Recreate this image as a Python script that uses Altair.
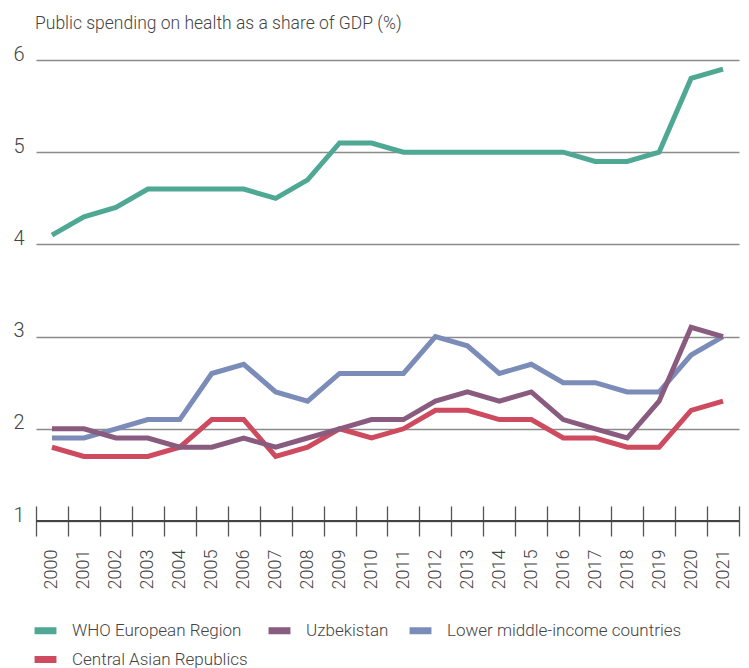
import altair as alt
import pandas as pd

years = list(range(2000, 2022))
who_europe = [4.1, 4.3, 4.4, 4.6, 4.6, 4.6, 4.6, 4.5, 4.7, 5.1, 5.1, 5.0, 5.0, 5.0, 5.0, 5.0, 5.0, 4.9, 4.9, 5.0, 5.8, 5.9]
uzbekistan = [2.0, 2.0, 1.9, 1.9, 1.8, 1.8, 1.9, 1.8, 1.9, 2.0, 2.1, 2.1, 2.3, 2.4, 2.3, 2.4, 2.1, 2.0, 1.9, 2.3, 3.1, 3.0]
lower_middle = [1.9, 1.9, 2.0, 2.1, 2.1, 2.6, 2.7, 2.4, 2.3, 2.6, 2.6, 2.6, 3.0, 2.9, 2.6, 2.7, 2.5, 2.5, 2.4, 2.4, 2.8, 3.0]
central_asia = [1.8, 1.7, 1.7, 1.7, 1.8, 2.1, 2.1, 1.7, 1.8, 2.0, 1.9, 2.0, 2.2, 2.2, 2.1, 2.1, 1.9, 1.9, 1.8, 1.8, 2.2, 2.3]

legend_order = ["WHO European Region", "Uzbekistan", "Lower middle-income countries", "Central Asian Republics"]
colors = ["#4fa894", "#895b7f", "#7b8cb8", "#cd4a5f"]
title_text = "Public spending on health as a share of GDP (%)"

# draw order: last drawn on top
draw = [
    ("WHO European Region", who_europe),
    ("Lower middle-income countries", lower_middle),
    ("Central Asian Republics", central_asia),
    ("Uzbekistan", uzbekistan),
]
rows = []
for i, (name, vals) in enumerate(draw):
    for y, v in zip(years, vals):
        rows.append({"series": name, "year": str(y), "value": v, "z": i})
df = pd.DataFrame(rows)

FONT = "Roboto"
W, H = 703, 461

lines = alt.Chart(df).mark_line(strokeWidth=5).encode(
    x=alt.X(
        "year:O",
        bandPosition=0.5,
        scale=alt.Scale(type="band", paddingInner=0, paddingOuter=0),
        axis=alt.Axis(
            title=None,
            domain=False,
            grid=False,
            tickBand="extent",
            tickSize=30,
            tickColor="#555555",
            tickWidth=1.3,
            offset=-15,
            labelAngle=270,
            labelAlign="right",
            labelBaseline="middle",
            labelPadding=13,
            labelFont=FONT,
            labelFontWeight=300,
            labelFontSize=18,
            labelColor="#444444",
        ),
    ),
    y=alt.Y(
        "value:Q",
        scale=alt.Scale(domain=[1, 6], nice=False, zero=False),
        axis=alt.Axis(
            title=None,
            values=[1, 2, 3, 4, 5, 6],
            format="d",
            domain=False,
            ticks=False,
            grid=True,
            gridColor="#8a8a8a",
            gridWidth=1.4,
            labelPadding=12,
            labelBaseline="alphabetic",
            labelFont=FONT,
            labelFontWeight=300,
            labelFontSize=20,
            labelColor="#444444",
        ),
    ),
    color=alt.Color(
        "series:N",
        scale=alt.Scale(domain=legend_order, range=colors),
        legend=alt.Legend(
            title=None,
            orient="none",
            legendX=-5,
            legendY=H + 95,
            direction="horizontal",
            columns=3,
            columnPadding=6,
            rowPadding=0,
            symbolType="stroke",
            symbolStrokeWidth=7,
            symbolSize=480,
            labelOffset=12,
            labelLimit=0,
            labelFont=FONT,
            labelFontWeight=300,
            labelFontSize=17,
            labelColor="#444444",
        ),
    ),
    detail="z:O",
)

baseline = alt.Chart(pd.DataFrame({"v": [1]})).mark_rule(color="#444444", strokeWidth=2).encode(
    y=alt.Y("v:Q")
)

title = alt.Chart(pd.DataFrame({"t": [title_text]})).mark_text(
    align="left",
    baseline="alphabetic",
    font=FONT,
    fontWeight=300,
    fontSize=17.5,
    color="#444444",
).encode(
    x=alt.value(-1),
    y=alt.value(-31),
    text="t:N",
)

chart = alt.layer(lines, baseline, title).properties(
    width=W,
    height=H,
    autosize=alt.AutoSizeParams(type="none"),
    padding={"left": 28, "top": 52, "right": 2, "bottom": 147},
).configure_view(stroke=None)

chart.save("out.html", embed_options={"renderer": "svg", "actions": False})
